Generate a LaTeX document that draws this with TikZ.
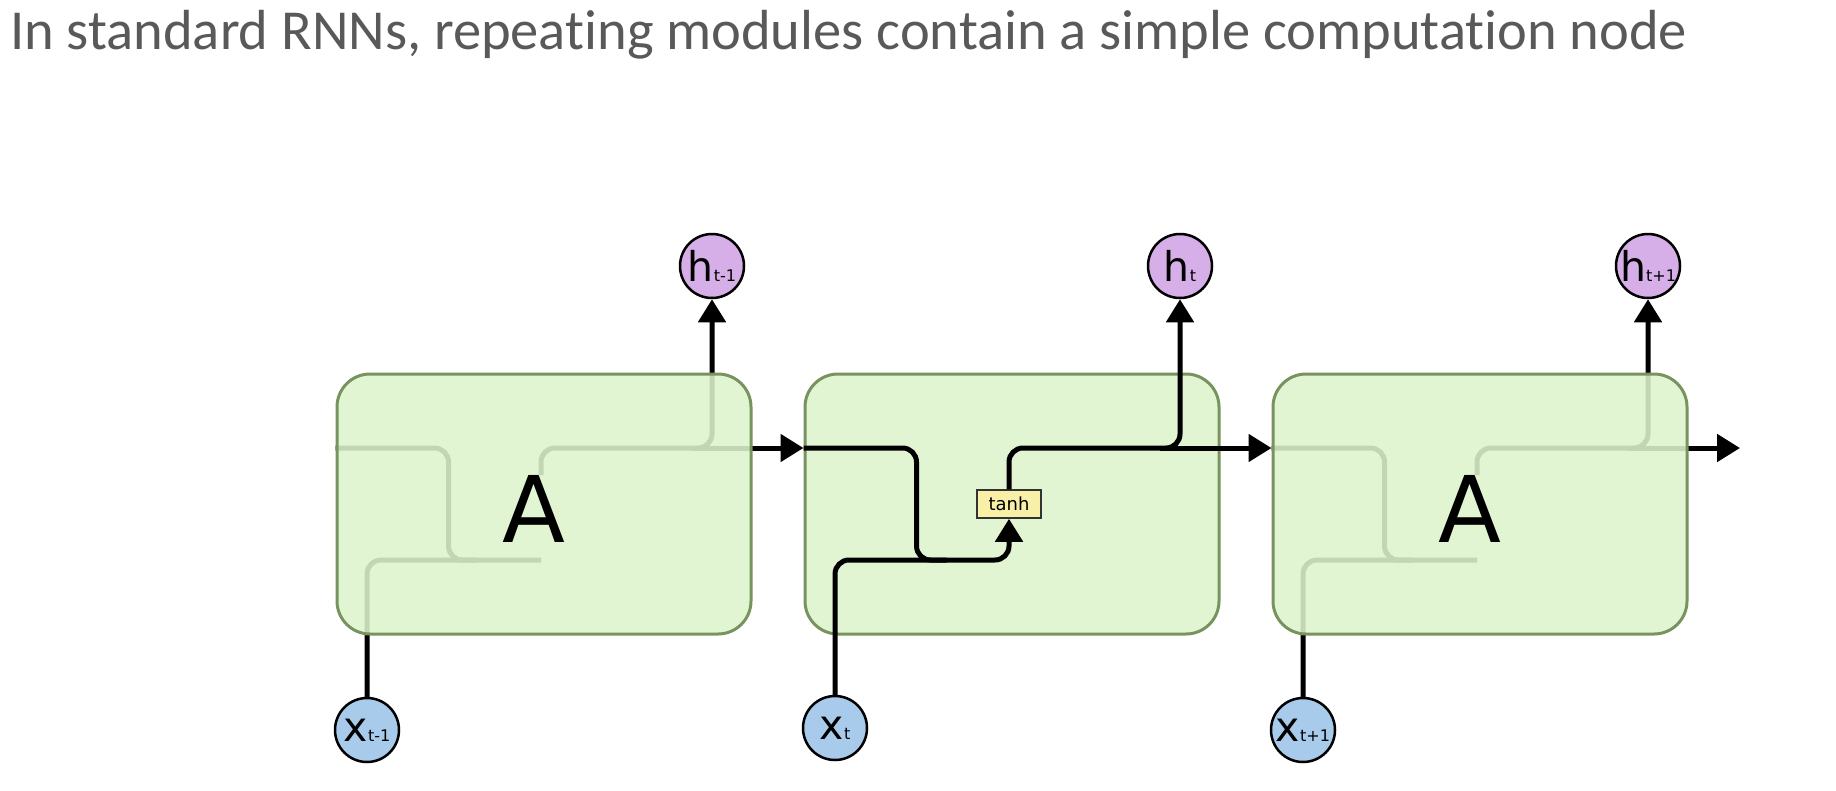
\documentclass[tikz,border=0pt]{standalone}
\usepackage{fontspec}
\setmainfont{Carlito}[Ligatures=CommonOff]
\newfontfamily\labelfont{DejaVu Sans}
\usetikzlibrary{positioning,calc,arrows.meta}
\definecolor{cellFill}{RGB}{222,244,205}
\definecolor{cellDraw}{RGB}{120,148,94}
\definecolor{hFill}{RGB}{214,174,232}
\definecolor{xFill}{RGB}{169,203,235}
\definecolor{tanhFill}{RGB}{249,240,168}
\definecolor{titleGray}{RGB}{89,89,89}
\pgfdeclarelayer{background}
\pgfsetlayers{background,main}
\newcommand{\stateLabel}[2]{{\fontsize{41}{41}\selectfont #1}{\fontsize{16}{16}\selectfont #2}}
\tikzstyle{rnnblock} = [rectangle, rounded corners=33pt, minimum width=414pt, minimum height=260pt, draw=cellDraw, line width=3pt, fill=cellFill, fill opacity=0.88]
\tikzstyle{cellname} = [inner sep=0pt, font=\labelfont\fontsize{92}{92}\selectfont]
\tikzstyle{hcircle} = [circle, minimum size=64pt, inner sep=0pt, draw=black, line width=2.5pt, fill=hFill, font=\labelfont]
\tikzstyle{xcircle} = [circle, minimum size=64pt, inner sep=0pt, draw=black, line width=2.5pt, fill=xFill, font=\labelfont]
\tikzstyle{tanhbox} = [rectangle, minimum width=64pt, minimum height=28pt, inner sep=0pt, draw=black!80, line width=1.5pt, fill=tanhFill, font=\labelfont\fontsize{18}{18}\selectfont]
\tikzstyle{wire} = [line width=5pt, rounded corners=14pt]
\tikzstyle{arrow} = [wire, -{Triangle[length=23pt,width=27pt]}]
\begin{document}
\begin{tikzpicture}[x=1pt, y=-1pt]

	\useasboundingbox (0,0) rectangle (1836,790);

% Title

	\node (title) [anchor=base west, inner sep=0pt, text=titleGray, font=\fontsize{56.5}{56.5}\selectfont] at (10,49) {In standard RNNs, repeating modules contain a simple computation node};


% Repeating modules

	\node (cellPrev) [rnnblock] at (544,504) {};

	\node (cellCur) [rnnblock] at (1012,504) {};

	\node (cellNext) [rnnblock] at (1480,504) {};

	\node (namePrev) [cellname] at ($(cellPrev.center)+(-10,5)$) {A};

	\node (nameNext) [cellname] at ($(cellNext.center)+(-10,5)$) {A};


% Outputs

	\node (hPrev) [hcircle] at (712,266) {\stateLabel{h}{t-1}};

	\node (hCur) [hcircle] at (1180,266) {\stateLabel{h}{t}};

	\node (hNext) [hcircle] at (1648,266) {\stateLabel{h}{t+1}};


% Inputs

	\node (xPrev) [xcircle] at (367,730) {\stateLabel{x}{t-1}};

	\node (xCur) [xcircle] at (835,728) {\stateLabel{x}{t}};

	\node (xNext) [xcircle] at (1303,730) {\stateLabel{x}{t+1}};


% Computation node

	\node (tanhGate) [tanhbox] at ($(cellCur.center)+(-3,0)$) {tanh};

	\coordinate (mergeCur) at ($(cellCur.west)+(113,56)$);
	\coordinate (splitCur) at ($(cellCur.center)+(168,-56)$);
	\coordinate (outEnd) at (1740,448);




% Inner wiring of the A modules, seen through the fill
	\begin{pgfonlayer}{background}
	\foreach \cell/\xin/\hout in {cellPrev/xPrev/hPrev, cellNext/xNext/hNext} {
		\draw [wire] ([yshift=56pt]\cell.west) -| ($(\cell.west)+(113,56)$) -- ($(\cell.center)+(-3,56)$);
		\draw [wire] (\xin.north) |- ($(\cell.west)+(140,56)$);
		\draw [arrow] ($(\cell.center)+(-3,-29)$) |- ($(\cell.center)+(168,-56)$) -- (\hout.south);
		\draw [wire] ($(\cell.center)+(148,-56)$) -- ([yshift=56pt]\cell.east);
	}
	\end{pgfonlayer}


% Hidden state between modules
	\draw [arrow] ([yshift=56pt]cellPrev.east) -- ([yshift=56pt]cellCur.west);
	\draw [arrow] ([xshift=-20pt]splitCur) -- ([yshift=56pt]cellNext.west);
	\draw [arrow] ([yshift=56pt]cellNext.east) -- (outEnd);


% Middle module
	\draw [arrow] ([yshift=56pt]cellCur.west) -| (mergeCur) -| (tanhGate.south);
	\draw [wire] (xCur.north) |- ($(mergeCur)+(30,0)$);

	\draw [arrow] (tanhGate.north) |- (splitCur) -- (hCur.south);


\end{tikzpicture}
\end{document}
